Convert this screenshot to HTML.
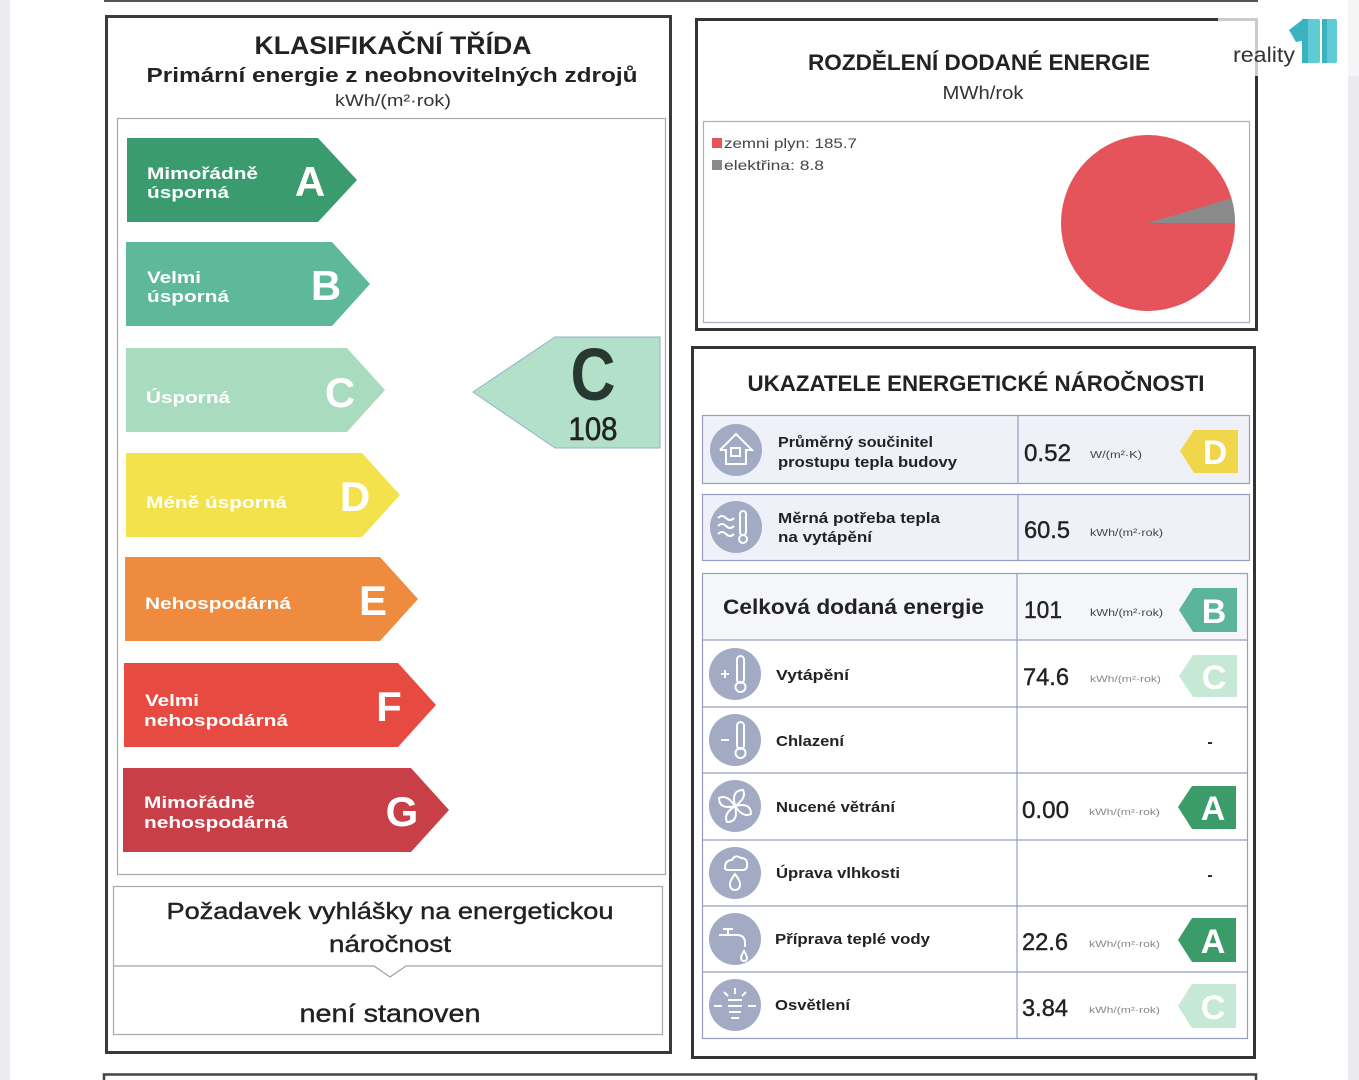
<!DOCTYPE html>
<html><head><meta charset="utf-8">
<style>
html,body{margin:0;padding:0;background:#fff;}
svg{display:block;}
text{font-family:"Liberation Sans",sans-serif;}
.b{font-weight:bold;}
</style></head>
<body>
<svg width="1359" height="1080" viewBox="0 0 1359 1080" xmlns="http://www.w3.org/2000/svg">
<rect x="0" y="0" width="1359" height="1080" fill="#fff"/>
<!-- side strips -->
<rect x="0" y="0" width="10" height="1080" fill="#ebecf0"/>
<rect x="1348" y="0" width="11" height="1080" fill="#ebebef"/>
<rect x="1348" y="0" width="11" height="76" fill="#f5f5f7"/>
<!-- top line -->
<line x1="104" y1="1" x2="1258" y2="1" stroke="#555" stroke-width="2"/>

<!-- LEFT BOX -->
<rect x="106.5" y="16.5" width="564" height="1036" fill="none" stroke="#3a3a3a" stroke-width="3"/>
<text x="393" y="54" text-anchor="middle" class="b" font-size="25" fill="#222" textLength="277" lengthAdjust="spacingAndGlyphs">KLASIFIKAČNÍ TŘÍDA</text>
<text x="392" y="82" text-anchor="middle" class="b" font-size="20" fill="#222" textLength="491" lengthAdjust="spacingAndGlyphs">Primární energie z neobnovitelných zdrojů</text>
<text x="393" y="106" text-anchor="middle" font-size="17" fill="#333" textLength="116" lengthAdjust="spacingAndGlyphs">kWh/(m²·rok)</text>
<rect x="117.5" y="118.5" width="548" height="756" fill="none" stroke="#a8a8b0" stroke-width="1.2"/>

<!-- arrows -->
<polygon points="127,138 318,138 357,180 318,222 127,222" fill="#3a9b6f"/>
<text x="147" y="179" class="b" font-size="17" fill="#fff" textLength="111" lengthAdjust="spacingAndGlyphs">Mimořádně</text>
<text x="147" y="198" class="b" font-size="17" fill="#fff" textLength="82" lengthAdjust="spacingAndGlyphs">úsporná</text>
<text x="310" y="196" text-anchor="middle" class="b" font-size="42" fill="#fff">A</text>

<polygon points="126,242 332,242 370,284 332,326 126,326" fill="#5eb89a"/>
<text x="147" y="283" class="b" font-size="17" fill="#fff" textLength="54" lengthAdjust="spacingAndGlyphs">Velmi</text>
<text x="147" y="302" class="b" font-size="17" fill="#fff" textLength="82" lengthAdjust="spacingAndGlyphs">úsporná</text>
<text x="326" y="300" text-anchor="middle" class="b" font-size="42" fill="#fff">B</text>

<polygon points="126,348 347,348 385,390 347,432 126,432" fill="#a9dcbe"/>
<text x="146" y="403" class="b" font-size="17" fill="#fff" textLength="84" lengthAdjust="spacingAndGlyphs">Úsporná</text>
<text x="340" y="407" text-anchor="middle" class="b" font-size="42" fill="#fff">C</text>

<polygon points="126,453 362,453 400,495 362,537 126,537" fill="#f4e24c"/>
<text x="146" y="508" class="b" font-size="17" fill="#fff" textLength="141" lengthAdjust="spacingAndGlyphs">Méně úsporná</text>
<text x="355" y="511" text-anchor="middle" class="b" font-size="42" fill="#fff">D</text>

<polygon points="125,557 380,557 418,599 380,641 125,641" fill="#ee8b3f"/>
<text x="145" y="609" class="b" font-size="17" fill="#fff" textLength="146" lengthAdjust="spacingAndGlyphs">Nehospodárná</text>
<text x="373" y="615" text-anchor="middle" class="b" font-size="42" fill="#fff">E</text>

<polygon points="124,663 398,663 436,705 398,747 124,747" fill="#e64a40"/>
<text x="145" y="706" class="b" font-size="17" fill="#fff" textLength="54" lengthAdjust="spacingAndGlyphs">Velmi</text>
<text x="144" y="726" class="b" font-size="17" fill="#fff" textLength="144" lengthAdjust="spacingAndGlyphs">nehospodárná</text>
<text x="389" y="721" text-anchor="middle" class="b" font-size="42" fill="#fff">F</text>

<polygon points="123,768 411,768 449,810 411,852 123,852" fill="#c83f47"/>
<text x="144" y="808" class="b" font-size="17" fill="#fff" textLength="111" lengthAdjust="spacingAndGlyphs">Mimořádně</text>
<text x="144" y="828" class="b" font-size="17" fill="#fff" textLength="144" lengthAdjust="spacingAndGlyphs">nehospodárná</text>
<text x="402" y="826" text-anchor="middle" class="b" font-size="42" fill="#fff">G</text>

<!-- C indicator -->
<polygon points="473,392 555,337 660,337 660,448 555,448" fill="#b3e0c9" stroke="#8fb3c8" stroke-width="1"/>
<text x="593" y="400" text-anchor="middle" class="b" font-size="74" fill="#263830" textLength="45" lengthAdjust="spacingAndGlyphs">C</text>
<text x="593" y="440" text-anchor="middle" font-size="32" fill="#222" stroke="#222" stroke-width="0.6" textLength="49" lengthAdjust="spacingAndGlyphs">108</text>

<!-- requirement box -->
<rect x="113.5" y="886.5" width="549" height="148" fill="none" stroke="#a8a8b0" stroke-width="1.2"/>
<polyline points="114,966 374,966 390,977 406,966 662,966" fill="none" stroke="#a0a0a8" stroke-width="1.2"/>
<text x="390" y="919" text-anchor="middle" font-size="23" fill="#222" stroke="#222" stroke-width="0.4" textLength="447" lengthAdjust="spacingAndGlyphs">Požadavek vyhlášky na energetickou</text>
<text x="390" y="952" text-anchor="middle" font-size="23" fill="#222" stroke="#222" stroke-width="0.4" textLength="122" lengthAdjust="spacingAndGlyphs">náročnost</text>
<text x="390" y="1022" text-anchor="middle" font-size="25" fill="#222" stroke="#222" stroke-width="0.4" textLength="181" lengthAdjust="spacingAndGlyphs">není stanoven</text>

<!-- RIGHT TOP BOX -->
<rect x="696.5" y="19.5" width="560" height="310" fill="none" stroke="#333" stroke-width="3"/>
<text x="979" y="70" text-anchor="middle" class="b" font-size="22" fill="#222" textLength="342" lengthAdjust="spacingAndGlyphs">ROZDĚLENÍ DODANÉ ENERGIE</text>
<text x="983" y="99" text-anchor="middle" font-size="18" fill="#333" textLength="81" lengthAdjust="spacingAndGlyphs">MWh/rok</text>
<rect x="703.5" y="121.5" width="546" height="201" fill="none" stroke="#a8aec0" stroke-width="1.2"/>
<rect x="712" y="138" width="10" height="10" fill="#e5545a"/>
<text x="724" y="148" font-size="14" fill="#444" textLength="133" lengthAdjust="spacingAndGlyphs">zemni plyn: 185.7</text>
<rect x="712" y="160" width="10" height="10" fill="#8a8a8a"/>
<text x="724" y="170" font-size="14" fill="#444" textLength="100" lengthAdjust="spacingAndGlyphs">elektřina: 8.8</text>
<ellipse cx="1148" cy="223" rx="87" ry="88" fill="#e5545a"/>
<path d="M1148,223 L1235,223 A87,88 0 0 0 1231.5,198.3 Z" fill="#8a8a8a"/>

<!-- logo -->
<rect x="1218" y="17" width="128" height="59" fill="#fff" opacity="0.75"/>
<text x="1233" y="62" font-size="21" fill="#333" textLength="62" lengthAdjust="spacingAndGlyphs">reality</text>
<polygon points="1289,30 1302,20 1306,40 1296,42" fill="#3ab2bf"/>
<rect x="1302" y="19" width="18" height="44" rx="2" fill="#5fcbd5"/>
<rect x="1302" y="19" width="6" height="44" fill="#3ab2bf"/>
<rect x="1322" y="19" width="15" height="44" rx="2" fill="#5fcbd5"/>
<rect x="1322" y="19" width="5" height="44" fill="#3ab2bf"/>

<!-- RIGHT BOTTOM BOX -->
<rect x="692.5" y="347.5" width="562" height="710" fill="none" stroke="#333" stroke-width="3"/>
<text x="976" y="391" text-anchor="middle" class="b" font-size="22" fill="#222" textLength="457" lengthAdjust="spacingAndGlyphs">UKAZATELE ENERGETICKÉ NÁROČNOSTI</text>

<!-- row1 -->
<rect x="702.5" y="415.5" width="547" height="68" fill="#eff1f8" stroke="#969cc4" stroke-width="1.2"/>
<line x1="1018" y1="416" x2="1018" y2="483" stroke="#969cc4" stroke-width="1.2"/>
<!-- row2 -->
<rect x="702.5" y="494.5" width="547" height="66" fill="#eff1f8" stroke="#969cc4" stroke-width="1.2"/>
<line x1="1018" y1="495" x2="1018" y2="560" stroke="#969cc4" stroke-width="1.2"/>
<!-- table -->
<rect x="702.5" y="573.5" width="545" height="66" fill="#f5f6fa"/>
<rect x="702.5" y="573.5" width="545" height="465" fill="none" stroke="#969cc4" stroke-width="1.2"/>
<line x1="1017" y1="574" x2="1017" y2="1038" stroke="#969cc4" stroke-width="1.2"/>
<g stroke="#969cc4" stroke-width="1.2">
<line x1="703" y1="640" x2="1247" y2="640"/>
<line x1="703" y1="707" x2="1247" y2="707"/>
<line x1="703" y1="773" x2="1247" y2="773"/>
<line x1="703" y1="840" x2="1247" y2="840"/>
<line x1="703" y1="906" x2="1247" y2="906"/>
<line x1="703" y1="972" x2="1247" y2="972"/>
</g>

<!-- icons -->
<g fill="#a2abc3">
<circle cx="736" cy="450" r="26"/>
<circle cx="736" cy="527" r="26"/>
<circle cx="735" cy="674" r="26"/>
<circle cx="735" cy="740" r="26"/>
<circle cx="735" cy="806" r="26"/>
<circle cx="735" cy="873" r="26"/>
<circle cx="735" cy="939" r="26"/>
<circle cx="735" cy="1005" r="26"/>
</g>
<g fill="none" stroke="#fff" stroke-width="2">
<!-- house -->
<polyline points="720,450 736,434 752,450 746,450 746,464 726,464 726,450 720,450"/>
<rect x="731" y="448" width="9" height="8"/>
<!-- waves + thermo -->
<path d="M718,518 q4,-4 8,0 t8,0 M718,526 q4,-4 8,0 t8,0 M718,534 q4,-4 8,0 t8,0"/>
<rect x="740" y="511" width="6" height="24" rx="3"/>
<circle cx="743" cy="539" r="4"/>
<!-- thermo + -->
<rect x="737" y="656" width="7" height="27" rx="3.5"/>
<circle cx="740.5" cy="687" r="5"/>
<path d="M721,674 h8 M725,670 v8"/>
<!-- thermo - -->
<rect x="737" y="722" width="7" height="27" rx="3.5"/>
<circle cx="740.5" cy="753" r="5"/>
<path d="M721,740 h8"/>
<!-- fan -->
<path d="M735,806 q-4,-16 8,-16 q4,8 -8,16 M735,806 q16,-4 16,8 q-8,4 -16,-8 M735,806 q4,16 -8,16 q-4,-8 8,-16 M735,806 q-16,4 -16,-8 q8,-4 16,8"/>
<!-- cloud drop -->
<path d="M725,868 q0,-8 7,-8 q3,-6 9,-2 q7,0 6,8 q0,4 -5,4 h-13 q-4,0 -4,-2 z"/>
<path d="M735,874 q-6,8 -5,11 a5,5 0 0 0 10,0 q1,-3 -5,-11 z"/>
<!-- tap -->
<path d="M719,935 h18 q8,0 8,8 v4 M728,930 v5 M723,929 h10"/>
<path d="M744,951 q-3,5 -3,7 a3,3 0 0 0 6,0 q0,-2 -3,-7 z"/>
<!-- bulb -->
<path d="M728,1000 h14 M728,1006 h14 M729,1012 h12 M731,1018 h8 M735,988 v6 M724,992 l4,4 M746,992 l-4,4 M714,1006 h8 M748,1006 h8"/>
</g>

<!-- labels -->
<g class="b" fill="#222">
<text x="778" y="447" class="b" font-size="15" textLength="155" lengthAdjust="spacingAndGlyphs">Průměrný součinitel</text>
<text x="778" y="467" class="b" font-size="15" textLength="179" lengthAdjust="spacingAndGlyphs">prostupu tepla budovy</text>
<text x="778" y="523" class="b" font-size="15" textLength="162" lengthAdjust="spacingAndGlyphs">Měrná potřeba tepla</text>
<text x="778" y="542" class="b" font-size="15" textLength="94" lengthAdjust="spacingAndGlyphs">na vytápění</text>
<text x="723" y="614" class="b" font-size="21" textLength="261" lengthAdjust="spacingAndGlyphs">Celková dodaná energie</text>
<text x="776" y="680" class="b" font-size="15" textLength="73" lengthAdjust="spacingAndGlyphs">Vytápění</text>
<text x="776" y="746" class="b" font-size="15" textLength="68" lengthAdjust="spacingAndGlyphs">Chlazení</text>
<text x="776" y="812" class="b" font-size="15" textLength="119" lengthAdjust="spacingAndGlyphs">Nucené větrání</text>
<text x="776" y="878" class="b" font-size="15" textLength="124" lengthAdjust="spacingAndGlyphs">Úprava vlhkosti</text>
<text x="775" y="944" class="b" font-size="15" textLength="155" lengthAdjust="spacingAndGlyphs">Příprava teplé vody</text>
<text x="775" y="1010" class="b" font-size="15" textLength="75" lengthAdjust="spacingAndGlyphs">Osvětlení</text>
</g>

<!-- values -->
<g fill="#222" font-size="24" stroke="#222" stroke-width="0.4">
<text x="1024" y="461" textLength="47" lengthAdjust="spacingAndGlyphs">0.52</text>
<text x="1024" y="538" textLength="46" lengthAdjust="spacingAndGlyphs">60.5</text>
<text x="1024" y="618" textLength="38" lengthAdjust="spacingAndGlyphs">101</text>
<text x="1023" y="685" textLength="46" lengthAdjust="spacingAndGlyphs">74.6</text>
<text x="1022" y="818" textLength="47" lengthAdjust="spacingAndGlyphs">0.00</text>
<text x="1022" y="950" textLength="46" lengthAdjust="spacingAndGlyphs">22.6</text>
<text x="1022" y="1016" textLength="46" lengthAdjust="spacingAndGlyphs">3.84</text>
</g>
<g font-size="10" fill="#444">
<text x="1090" y="458" textLength="52" lengthAdjust="spacingAndGlyphs">W/(m²·K)</text>
<text x="1090" y="536" textLength="73" lengthAdjust="spacingAndGlyphs">kWh/(m²·rok)</text>
<text x="1090" y="616" textLength="73" lengthAdjust="spacingAndGlyphs">kWh/(m²·rok)</text>
</g>
<g font-size="9" fill="#888">
<text x="1090" y="682" textLength="71" lengthAdjust="spacingAndGlyphs">kWh/(m²·rok)</text>
<text x="1089" y="815" textLength="71" lengthAdjust="spacingAndGlyphs">kWh/(m²·rok)</text>
<text x="1089" y="947" textLength="71" lengthAdjust="spacingAndGlyphs">kWh/(m²·rok)</text>
<text x="1089" y="1013" textLength="71" lengthAdjust="spacingAndGlyphs">kWh/(m²·rok)</text>
</g>
<text x="1210" y="747" text-anchor="middle" class="b" font-size="16" fill="#222">-</text>
<text x="1210" y="880" text-anchor="middle" class="b" font-size="16" fill="#222">-</text>

<!-- badges -->
<polygon points="1180,451 1194,430 1238,430 1238,473 1194,473" fill="#f1d54a"/>
<text x="1215" y="464" text-anchor="middle" class="b" font-size="34" fill="#fff">D</text>
<polygon points="1179,610 1193,588 1237,588 1237,632 1193,632" fill="#5db49c"/>
<text x="1214" y="623" text-anchor="middle" class="b" font-size="34" fill="#fff">B</text>
<polygon points="1179,676 1193,655 1237,655 1237,697 1193,697" fill="#c6e9d5"/>
<text x="1214" y="689" text-anchor="middle" class="b" font-size="34" fill="#fff">C</text>
<polygon points="1178,807 1192,786 1236,786 1236,829 1192,829" fill="#3b9b69"/>
<text x="1213" y="820" text-anchor="middle" class="b" font-size="34" fill="#fff">A</text>
<polygon points="1178,940 1192,918 1236,918 1236,962 1192,962" fill="#3b9b69"/>
<text x="1213" y="953" text-anchor="middle" class="b" font-size="34" fill="#fff">A</text>
<polygon points="1178,1006 1192,984 1236,984 1236,1028 1192,1028" fill="#c6e9d5"/>
<text x="1213" y="1019" text-anchor="middle" class="b" font-size="34" fill="#fff">C</text>

<!-- bottom next box -->
<rect x="104" y="1074.5" width="1152" height="20" fill="#fff" stroke="#444" stroke-width="2.5"/>
</svg>
</body></html>
